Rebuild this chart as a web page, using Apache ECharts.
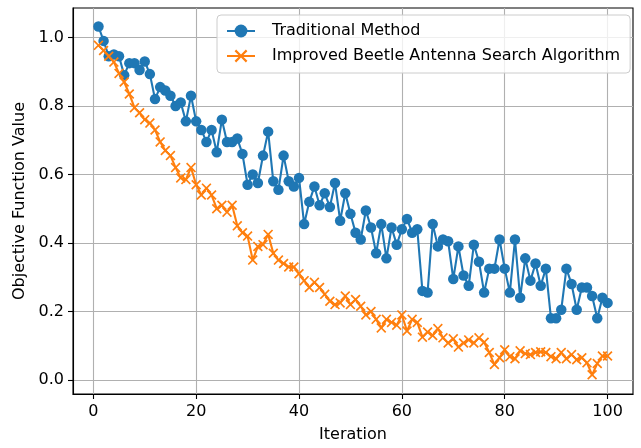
<!DOCTYPE html>
<html>
<head>
<meta charset="utf-8">
<script src="https://cdn.jsdelivr.net/npm/echarts@6/dist/echarts.min.js"></script>
<style>html,body{margin:0;padding:0;background:#fff}#c{width:641px;height:448px}</style>
</head>
<body>
<div id="c"></div>
<script>
const iterations = Array.from({length: 100}, (_, i) => i + 1);
const traditional = [
1.032,0.990,0.945,0.950,0.945,0.890,0.925,0.925,0.905,0.930,
0.893,0.820,0.855,0.845,0.830,0.800,0.810,0.755,0.830,0.755,
0.730,0.695,0.730,0.665,0.760,0.695,0.695,0.705,0.660,0.570,
0.600,0.575,0.655,0.725,0.580,0.555,0.655,0.580,0.565,0.590,
0.455,0.520,0.565,0.510,0.545,0.505,0.575,0.465,0.545,0.485,
0.430,0.410,0.495,0.445,0.370,0.455,0.355,0.445,0.395,0.440,
0.470,0.430,0.440,0.260,0.255,0.455,0.390,0.410,0.405,0.295,
0.390,0.305,0.275,0.395,0.345,0.255,0.325,0.325,0.410,0.325,
0.255,0.410,0.240,0.355,0.290,0.340,0.275,0.325,0.180,0.180,
0.205,0.325,0.280,0.205,0.270,0.270,0.245,0.180,0.240,0.225
];
const improved = [
0.977,0.962,0.945,0.928,0.895,0.870,0.835,0.795,0.780,0.760,
0.750,0.730,0.695,0.670,0.655,0.620,0.590,0.585,0.620,0.570,
0.540,0.560,0.540,0.500,0.510,0.490,0.510,0.450,0.430,0.420,
0.350,0.390,0.395,0.425,0.370,0.350,0.340,0.330,0.330,0.310,
0.290,0.270,0.285,0.270,0.250,0.230,0.220,0.225,0.245,0.220,
0.235,0.215,0.190,0.200,0.177,0.152,0.177,0.168,0.160,0.190,
0.143,0.177,0.168,0.125,0.140,0.130,0.150,0.123,0.108,0.120,
0.096,0.108,0.117,0.108,0.123,0.110,0.080,0.045,0.065,0.088,
0.068,0.062,0.085,0.077,0.074,0.080,0.082,0.080,0.068,0.062,
0.080,0.062,0.074,0.059,0.065,0.050,0.015,0.048,0.070,0.070
];
const xTicks = [0, 20, 40, 60, 80, 100];
const yTicks = [0.0, 0.2, 0.4, 0.6, 0.8, 1.0];

const FONT = 'DejaVu Sans';
const FS = 16;
const xMark = 'path://M1.2,0L5,3.8L8.8,0L10,1.2L6.2,5L10,8.8L8.8,10L5,6.2L1.2,10L0,8.8L3.8,5L0,1.2Z';

const chart = echarts.init(document.getElementById('c'), null, {renderer: 'canvas'});
chart.setOption({
  animation: false,
  backgroundColor: '#fff',
  textStyle: {fontFamily: FONT},
  grid: {left: 73, right: 8, top: 8, bottom: 49, containLabel: false,
    show: true, borderColor: '#000', borderWidth: 1.1, backgroundColor: 'transparent'},
  legend: {
    orient: 'vertical',
    left: 217, top: 15,
    padding: [8, 10, 9, 9],
    itemWidth: 28, itemHeight: 16, itemGap: 9,
    backgroundColor: 'rgba(255,255,255,0.8)',
    borderColor: '#cccccc', borderWidth: 1, borderRadius: 4,
    textStyle: {fontFamily: FONT, fontSize: FS, color: '#000', padding: [0, 0, 0, 12]},
    data: ['Traditional Method', 'Improved Beetle Antenna Search Algorithm']
  },
  xAxis: {
    type: 'value', min: -3.95, max: 104.95,
    name: 'Iteration', nameLocation: 'middle', nameGap: 33,
    nameTextStyle: {fontFamily: FONT, fontSize: FS, color: '#000'},
    axisLine: {show: true, onZero: false, lineStyle: {color: '#000', width: 1.1}},
    axisTick: {show: true, length: 5, lineStyle: {color: '#000', width: 1.1}, customValues: xTicks},
    axisLabel: {fontFamily: FONT, fontSize: FS, color: '#000', margin: 10, customValues: xTicks},
    splitLine: {show: true, lineStyle: {color: '#b0b0b0', width: 1.1}}
  },
  yAxis: {
    type: 'value', min: -0.041, max: 1.086,
    name: 'Objective Function Value', nameLocation: 'middle', nameGap: 44, nameRotate: 90,
    nameTextStyle: {fontFamily: FONT, fontSize: FS, color: '#000'},
    axisLine: {show: true, onZero: false, lineStyle: {color: '#000', width: 1.1}},
    axisTick: {show: true, length: 5, lineStyle: {color: '#000', width: 1.1}, customValues: yTicks},
    axisLabel: {fontFamily: FONT, fontSize: FS, color: '#000', margin: 9, customValues: yTicks,
      formatter: v => v.toFixed(1)},
    splitLine: {show: true, lineStyle: {color: '#b0b0b0', width: 1.1}}
  },
  series: [
    {
      name: 'Traditional Method', type: 'line',
      data: iterations.map((x, i) => [x, traditional[i]]),
      symbol: 'circle', symbolSize: 10.5, showAllSymbol: true,
      lineStyle: {color: '#1f77b4', width: 2.1},
      itemStyle: {color: '#1f77b4', borderWidth: 0},
      z: 2
    },
    {
      name: 'Improved Beetle Antenna Search Algorithm', type: 'line',
      data: iterations.map((x, i) => [x, improved[i]]),
      symbol: xMark, symbolSize: 10, showAllSymbol: true,
      lineStyle: {color: '#ff7f0e', width: 2.1},
      itemStyle: {color: '#ff7f0e', borderWidth: 0},
      z: 3
    }
  ]
});
</script>
</body>
</html>
